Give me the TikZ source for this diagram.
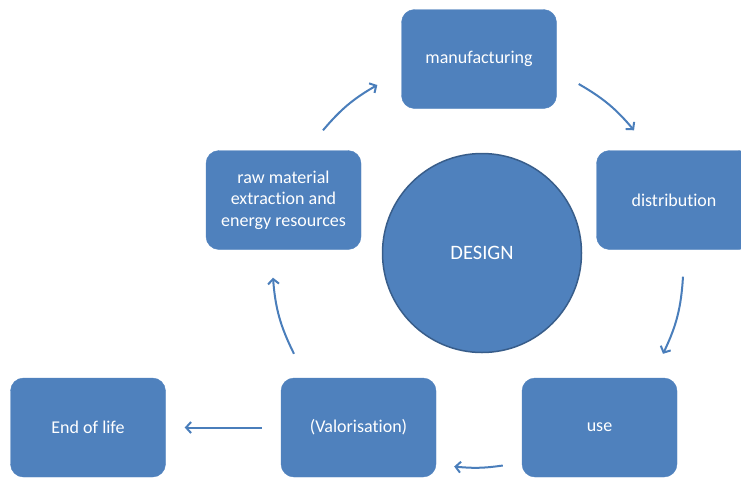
\documentclass[tikz,border=0pt]{standalone}
\usepackage{fontspec}
\setmainfont[Ligatures=NoCommon]{Carlito}
\usepackage{xcolor}
\usepackage{tikz}
\usetikzlibrary{arrows.meta}
\definecolor{stagefill}{HTML}{4F81BD}
\definecolor{designline}{HTML}{385D8A}
\definecolor{flowcol}{HTML}{4A7EBB}

\begin{document}
\begin{tikzpicture}[x=1pt,y=1pt,
    stage/.style={rectangle, rounded corners=13pt, fill=stagefill, draw=stagefill, text=white,
        minimum width=155pt, minimum height=99pt, align=center, font=\fontsize{18}{21.6}\selectfont},
    flow/.style={flowcol, line width=2pt, -{Straight Barb[length=5pt,width=11pt]}}]
    \useasboundingbox (0,0) rectangle (741,-477);

    % Centre
    \node[circle, fill=stagefill, draw=designline, line width=1.5pt, minimum size=199pt,
        text=white, font=\fontsize{20.5}{24}\selectfont] (design) at (482,-253) {DESIGN};

    % Life cycle stages
    \node[stage] (manu) at (479,-59) {manufacturing};
    \node[stage] (dist) at (674,-200) {distribution};
    \node[stage] (use) at (599.5,-427.5) {use};
    \node[stage] (valor) at (358.5,-427.5) {(Valorisation)};
    \node[stage] (endlife) at (88,-427.5) {End of life};
    \node[stage] (raw) at (283.5,-200) {raw material\\extraction and\\energy resources};

    % Cycle arrows
    \draw[flow] ([shift={(39.5,20)}]raw.north) to[bend left=10] ([shift={(-24,-26)}]manu.west);
    \draw[flow] ([shift={(22,-25)}]manu.east) to[bend left=10] ([shift={(-40,20)}]dist.north);
    \draw[flow] ([shift={(9,-27)}]dist.south) to[bend left=11] ([shift={(63.5,24)}]use.north);
    \draw[flow] ([shift={(-19,-38)}]use.west) to[bend left=7] ([shift={(18,-39)}]valor.east);
    \draw[flow, shorten <=19pt, shorten >=19pt] (valor) -- (endlife);
    \draw[flow] ([shift={(-64.5,24)}]valor.north) to[bend left=11] ([shift={(-10.5,-28)}]raw.south);
\end{tikzpicture}
\end{document}
